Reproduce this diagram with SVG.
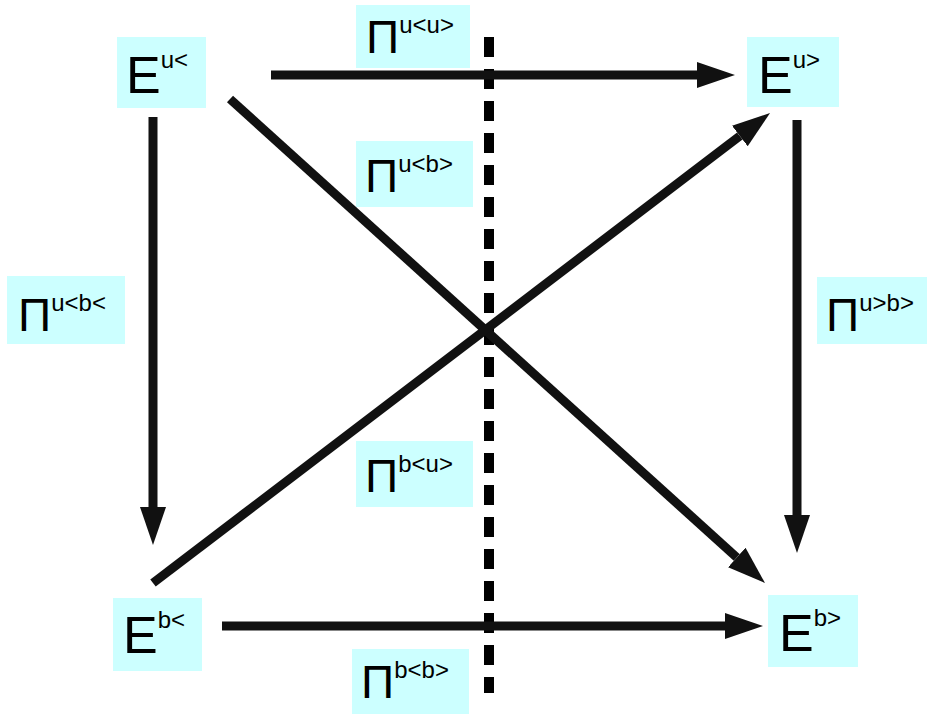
<svg xmlns="http://www.w3.org/2000/svg" width="927" height="716" viewBox="0 0 927 716">
<style>
.box{fill:#ccffff}
.t{font-family:"Liberation Sans",Arial,sans-serif;fill:#000}
.e{font-size:52px}
.p{font-size:46px}
.s{font-size:24px}
.c{stroke:#111;stroke-width:9;fill:none}
.d{stroke:#000;stroke-width:10;stroke-dasharray:20 12;fill:none}
</style>
<defs>
<marker id="ah" markerUnits="userSpaceOnUse" markerWidth="40" markerHeight="28" refX="0" refY="13" orient="auto" viewBox="0 0 40 26">
<path d="M0,0 L38,13 L0,26 z" fill="#111"/>
</marker>
</defs>
<rect width="927" height="716" fill="#fff"/>
<g id="labels">
<g id="pi-ubu"><rect class="box" x="356" y="5" width="114" height="63"/><text class="t p" x="366" y="53">Π<tspan class="s" dy="-20">u&lt;u&gt;</tspan></text></g>
<g id="pi-ubb"><rect class="box" x="356" y="141" width="117" height="66"/><text class="t p" x="365" y="192">Π<tspan class="s" dy="-20">u&lt;b&gt;</tspan></text></g>
<g id="pi-buu"><rect class="box" x="356" y="441" width="117" height="66"/><text class="t p" x="365" y="492">Π<tspan class="s" dy="-20">b&lt;u&gt;</tspan></text></g>
<g id="pi-bbb"><rect class="box" x="352" y="649" width="117" height="65"/><text class="t p" x="361" y="698">Π<tspan class="s" dy="-20">b&lt;b&gt;</tspan></text></g>
<g id="pi-ubl"><rect class="box" x="7" y="276" width="118" height="68"/><text class="t p" x="18" y="331">Π<tspan class="s" dy="-20">u&lt;b&lt;</tspan></text></g>
<g id="pi-urb"><rect class="box" x="817" y="277" width="110" height="67"/><text class="t p" x="826" y="331">Π<tspan class="s" dy="-20">u&gt;b&gt;</tspan></text></g>
</g>
<g id="divider"><line class="d" x1="489" y1="37" x2="489" y2="693"/></g>
<g id="connectors">
<line class="c" x1="271" y1="75" x2="697" y2="75" marker-end="url(#ah)"/>
<line class="c" x1="153" y1="117" x2="153" y2="507" marker-end="url(#ah)"/>
<line class="c" x1="797" y1="120" x2="797" y2="515" marker-end="url(#ah)"/>
<line class="c" x1="222" y1="626" x2="725" y2="626" marker-end="url(#ah)"/>
<line class="c" x1="230" y1="99" x2="736.8" y2="557.5" marker-end="url(#ah)"/>
<line class="c" x1="153" y1="583" x2="739.8" y2="136" marker-end="url(#ah)"/>
</g>
<g id="n-ul"><rect class="box" x="117" y="37" width="89" height="71"/><text class="t e" x="126" y="93">E<tspan class="s" dy="-25">u&lt;</tspan></text></g>
<g id="n-ur"><rect class="box" x="747" y="37" width="92" height="70"/><text class="t e" x="758" y="93">E<tspan class="s" dy="-25">u&gt;</tspan></text></g>
<g id="n-bl"><rect class="box" x="113" y="598" width="89" height="73"/><text class="t e" x="123" y="653">E<tspan class="s" dy="-25">b&lt;</tspan></text></g>
<g id="n-br"><rect class="box" x="768" y="595" width="90" height="72"/><text class="t e" x="779" y="651">E<tspan class="s" dy="-25">b&gt;</tspan></text></g>
</svg>
